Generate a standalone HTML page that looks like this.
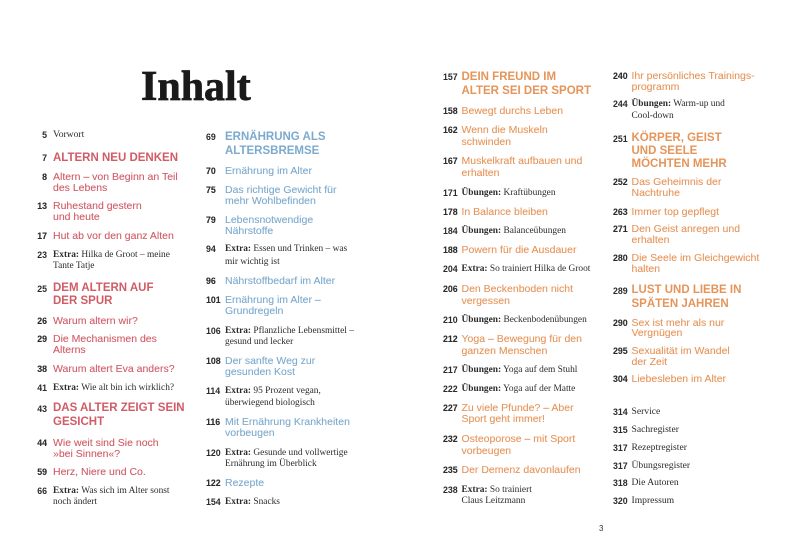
<!DOCTYPE html>
<html><head><meta charset="utf-8">
<style>
html,body{margin:0;padding:0;background:#fff;}
body{width:800px;height:553px;position:relative;overflow:hidden;}
.t{position:absolute;left:141px;top:66px;font-family:"Liberation Serif",serif;font-weight:bold;font-size:42px;line-height:42px;color:#1a1a1a;-webkit-text-stroke:0.7px #1a1a1a;}
.l{position:absolute;white-space:nowrap;}
.n{position:absolute;top:0;font-family:"Liberation Sans",sans-serif;font-weight:bold;font-size:8.8px;color:#2a2a2a;}
.h .n{top:0.5px;line-height:14px;}
.s,.e,.r{line-height:12px;height:12px;}
.s .n,.e .n,.r .n{line-height:12px;}
.h{font-family:"Liberation Sans",sans-serif;font-weight:bold;font-size:11.5px;line-height:14px;height:14px;}
.s{font-family:"Liberation Sans",sans-serif;font-size:10.5px;-webkit-text-stroke:0.1px currentColor;}
.e{font-family:"Liberation Serif",serif;font-size:9.4px;color:#2b2b2b;}
.e b{font-weight:bold;}
.r{font-family:"Liberation Serif",serif;font-size:9.6px;color:#2b2b2b;}
.c1{left:53px;}
.c2{left:225px;}
.c3{left:461.5px;}
.c4{left:631.5px;}
.c1 .n{left:-26px;width:20px;text-align:right;}
.c2 .n{left:-19px;}
.c3 .n,.c4 .n{left:-18.5px;}
.c1.h,.c1.s{color:#d05c66;}
.c2.h,.c2.s{color:#7caace;}
.c3.h,.c3.s,.c4.h,.c4.s{color:#e6955a;}
.pg{position:absolute;left:599px;top:524px;font-family:"Liberation Sans",sans-serif;font-size:8px;color:#333;}
</style></head><body>
<div class="t">Inhalt</div>

<!-- Column 1 -->
<div class="l r c1" style="top:129px"><span class="n">5</span>Vorwort</div>
<div class="l h c1" style="top:150.7px"><span class="n">7</span>ALTERN NEU DENKEN</div>
<div class="l s c1" style="top:170.7px"><span class="n">8</span>Altern – von Beginn an Teil</div>
<div class="l s c1" style="top:181.7px">des Lebens</div>
<div class="l s c1" style="top:200px"><span class="n">13</span>Ruhestand gestern</div>
<div class="l s c1" style="top:210.7px">und heute</div>
<div class="l s c1" style="top:229.7px"><span class="n">17</span>Hut ab vor den ganz Alten</div>
<div class="l e c1" style="top:249px"><span class="n">23</span><b>Extra:</b> Hilka de Groot – meine</div>
<div class="l e c1" style="top:260px">Tante Tatje</div>
<div class="l h c1" style="top:281.3px"><span class="n">25</span>DEM ALTERN AUF</div>
<div class="l h c1" style="top:294px">DER SPUR</div>
<div class="l s c1" style="top:314.7px"><span class="n">26</span>Warum altern wir?</div>
<div class="l s c1" style="top:333px"><span class="n">29</span>Die Mechanismen des</div>
<div class="l s c1" style="top:344px">Alterns</div>
<div class="l s c1" style="top:363px"><span class="n">38</span>Warum altert Eva anders?</div>
<div class="l e c1" style="top:381.7px"><span class="n">41</span><b>Extra:</b> Wie alt bin ich wirklich?</div>
<div class="l h c1" style="top:401px"><span class="n">43</span>DAS ALTER ZEIGT SEIN</div>
<div class="l h c1" style="top:415px">GESICHT</div>
<div class="l s c1" style="top:436.7px"><span class="n">44</span>Wie weit sind Sie noch</div>
<div class="l s c1" style="top:448px">»bei Sinnen«?</div>
<div class="l s c1" style="top:466px"><span class="n">59</span>Herz, Niere und Co.</div>
<div class="l e c1" style="top:484.7px"><span class="n">66</span><b>Extra:</b> Was sich im Alter sonst</div>
<div class="l e c1" style="top:495.5px">noch ändert</div>

<!-- Column 2 -->
<div class="l h c2" style="top:129.7px"><span class="n">69</span>ERNÄHRUNG ALS</div>
<div class="l h c2" style="top:144px">ALTERSBREMSE</div>
<div class="l s c2" style="top:165px"><span class="n">70</span>Ernährung im Alter</div>
<div class="l s c2" style="top:184px"><span class="n">75</span>Das richtige Gewicht für</div>
<div class="l s c2" style="top:195px">mehr Wohlbefinden</div>
<div class="l s c2" style="top:214px"><span class="n">79</span>Lebensnotwendige</div>
<div class="l s c2" style="top:225px">Nährstoffe</div>
<div class="l e c2" style="top:243.3px"><span class="n">94</span><b>Extra:</b> Essen und Trinken – was</div>
<div class="l e c2" style="top:255.5px">mir wichtig ist</div>
<div class="l s c2" style="top:275px"><span class="n">96</span>Nährstoffbedarf im Alter</div>
<div class="l s c2" style="top:294px"><span class="n">101</span>Ernährung im Alter –</div>
<div class="l s c2" style="top:305px">Grundregeln</div>
<div class="l e c2" style="top:324.7px"><span class="n">106</span><b>Extra:</b> Pflanzliche Lebensmittel –</div>
<div class="l e c2" style="top:336.3px">gesund und lecker</div>
<div class="l s c2" style="top:355px"><span class="n">108</span>Der sanfte Weg zur</div>
<div class="l s c2" style="top:366.3px">gesunden Kost</div>
<div class="l e c2" style="top:385px"><span class="n">114</span><b>Extra:</b> 95 Prozent vegan,</div>
<div class="l e c2" style="top:396.7px">überwiegend biologisch</div>
<div class="l s c2" style="top:415.7px"><span class="n">116</span>Mit Ernährung Krankheiten</div>
<div class="l s c2" style="top:427.3px">vorbeugen</div>
<div class="l e c2" style="top:446.7px"><span class="n">120</span><b>Extra:</b> Gesunde und vollwertige</div>
<div class="l e c2" style="top:458px">Ernährung im Überblick</div>
<div class="l s c2" style="top:476.7px"><span class="n">122</span>Rezepte</div>
<div class="l e c2" style="top:495.7px"><span class="n">154</span><b>Extra:</b> Snacks</div>

<!-- Column 3 -->
<div class="l h c3" style="top:69.7px"><span class="n">157</span>DEIN FREUND IM</div>
<div class="l h c3" style="top:84px">ALTER SEI DER SPORT</div>
<div class="l s c3" style="top:105px"><span class="n">158</span>Bewegt durchs Leben</div>
<div class="l s c3" style="top:124px"><span class="n">162</span>Wenn die Muskeln</div>
<div class="l s c3" style="top:135.7px">schwinden</div>
<div class="l s c3" style="top:155px"><span class="n">167</span>Muskelkraft aufbauen und</div>
<div class="l s c3" style="top:167.3px">erhalten</div>
<div class="l e c3" style="top:186.7px"><span class="n">171</span><b>Übungen:</b> Kraftübungen</div>
<div class="l s c3" style="top:205.7px"><span class="n">178</span>In Balance bleiben</div>
<div class="l e c3" style="top:225px"><span class="n">184</span><b>Übungen:</b> Balanceübungen</div>
<div class="l s c3" style="top:244px"><span class="n">188</span>Powern für die Ausdauer</div>
<div class="l e c3" style="top:263.3px"><span class="n">204</span><b>Extra:</b> So trainiert Hilka de Groot</div>
<div class="l s c3" style="top:283px"><span class="n">206</span>Den Beckenboden nicht</div>
<div class="l s c3" style="top:294.7px">vergessen</div>
<div class="l e c3" style="top:314px"><span class="n">210</span><b>Übungen:</b> Beckenbodenübungen</div>
<div class="l s c3" style="top:333.3px"><span class="n">212</span>Yoga – Bewegung für den</div>
<div class="l s c3" style="top:344.7px">ganzen Menschen</div>
<div class="l e c3" style="top:364px"><span class="n">217</span><b>Übungen:</b> Yoga auf dem Stuhl</div>
<div class="l e c3" style="top:383px"><span class="n">222</span><b>Übungen:</b> Yoga auf der Matte</div>
<div class="l s c3" style="top:401.7px"><span class="n">227</span>Zu viele Pfunde? – Aber</div>
<div class="l s c3" style="top:413.3px">Sport geht immer!</div>
<div class="l s c3" style="top:433px"><span class="n">232</span>Osteoporose – mit Sport</div>
<div class="l s c3" style="top:445px">vorbeugen</div>
<div class="l s c3" style="top:464px"><span class="n">235</span>Der Demenz davonlaufen</div>
<div class="l e c3" style="top:484px"><span class="n">238</span><b>Extra:</b> So trainiert</div>
<div class="l e c3" style="top:495px">Claus Leitzmann</div>

<!-- Column 4 -->
<div class="l s c4" style="top:69.7px"><span class="n">240</span>Ihr persönliches Trainings-</div>
<div class="l s c4" style="top:80.7px">programm</div>
<div class="l e c4" style="top:98.3px"><span class="n">244</span><b>Übungen:</b> Warm-up und</div>
<div class="l e c4" style="top:109.7px">Cool-down</div>
<div class="l h c4" style="top:131.3px"><span class="n">251</span>KÖRPER, GEIST</div>
<div class="l h c4" style="top:144px">UND SEELE</div>
<div class="l h c4" style="top:157.3px">MÖCHTEN MEHR</div>
<div class="l s c4" style="top:176.3px"><span class="n">252</span>Das Geheimnis der</div>
<div class="l s c4" style="top:187.3px">Nachtruhe</div>
<div class="l s c4" style="top:205.7px"><span class="n">263</span>Immer top gepflegt</div>
<div class="l s c4" style="top:223.3px"><span class="n">271</span>Den Geist anregen und</div>
<div class="l s c4" style="top:234px">erhalten</div>
<div class="l s c4" style="top:251.7px"><span class="n">280</span>Die Seele im Gleichgewicht</div>
<div class="l s c4" style="top:263px">halten</div>
<div class="l h c4" style="top:283px"><span class="n">289</span>LUST UND LIEBE IN</div>
<div class="l h c4" style="top:297px">SPÄTEN JAHREN</div>
<div class="l s c4" style="top:316.7px"><span class="n">290</span>Sex ist mehr als nur</div>
<div class="l s c4" style="top:327.3px">Vergnügen</div>
<div class="l s c4" style="top:345px"><span class="n">295</span>Sexualität im Wandel</div>
<div class="l s c4" style="top:355.7px">der Zeit</div>
<div class="l s c4" style="top:373.3px"><span class="n">304</span>Liebesleben im Alter</div>
<div class="l r c4" style="top:406.3px"><span class="n">314</span>Service</div>
<div class="l r c4" style="top:424px"><span class="n">315</span>Sachregister</div>
<div class="l r c4" style="top:441.7px"><span class="n">317</span>Rezeptregister</div>
<div class="l r c4" style="top:459.7px"><span class="n">317</span>Übungsregister</div>
<div class="l r c4" style="top:477.3px"><span class="n">318</span>Die Autoren</div>
<div class="l r c4" style="top:495px"><span class="n">320</span>Impressum</div>

<div class="pg">3</div>
</body></html>
